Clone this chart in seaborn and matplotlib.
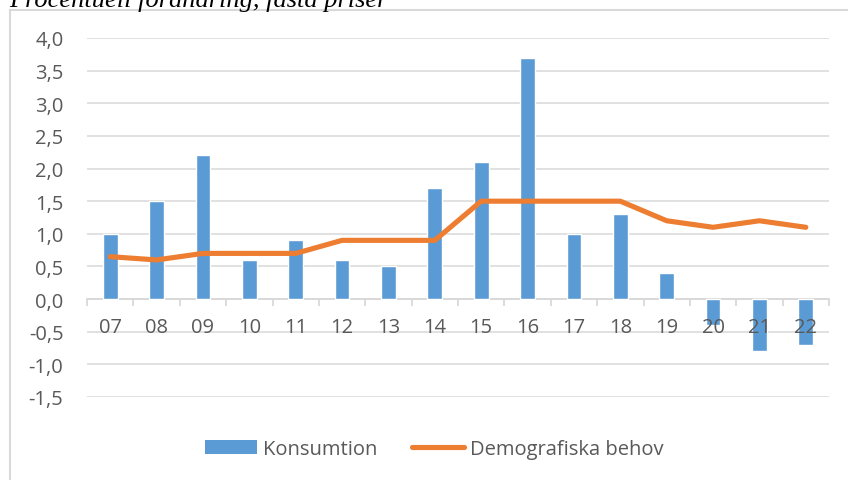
import numpy as np
import pandas as pd
import matplotlib
matplotlib.use("Agg")
import matplotlib.pyplot as plt
import matplotlib.ticker as mticker
from matplotlib.patches import Rectangle, Patch
from matplotlib.lines import Line2D
import seaborn as sns

years = ["07", "08", "09", "10", "11", "12", "13", "14", "15", "16", "17", "18", "19", "20", "21", "22"]
konsumtion = [1.0, 1.5, 2.2, 0.6, 0.9, 0.6, 0.5, 1.7, 2.1, 3.7, 1.0, 1.3, 0.4, -0.4, -0.8, -0.7]
demografiska = [0.65, 0.6, 0.7, 0.7, 0.7, 0.9, 0.9, 0.9, 1.5, 1.5, 1.5, 1.5, 1.2, 1.1, 1.2, 1.1]
yticks = [-1.5, -1.0, -0.5, 0.0, 0.5, 1.0, 1.5, 2.0, 2.5, 3.0, 3.5, 4.0]

sns.set_theme(style="white")
plt.rcParams["font.family"] = ["Open Sans", "DejaVu Sans"]

BLUE = "#5B9BD5"
ORANGE = "#ED7D31"
GRID = "#D9D9D9"
TXT = "#595959"
FS = 14.5

W, H = 848, 481
fig = plt.figure(figsize=(W / 100, H / 100), dpi=100)
ax = fig.add_axes([87 / W, 1 - 398 / H, (829 - 87) / W, (398 - 39) / H])

df = pd.DataFrame({"year": years, "konsumtion": konsumtion,
                   "pos": np.arange(len(years)), "demografiska": demografiska})

sns.barplot(data=df, x="year", y="konsumtion", color=BLUE, width=0.32,
            saturation=1, ax=ax, zorder=3, order=years)
sns.lineplot(data=df, x="pos", y="demografiska", color=ORANGE, lw=3.7,
             ax=ax, zorder=4, solid_capstyle="round")

ax.set_xlim(-0.5, len(years) - 0.5)
ax.set_ylim(-1.5, 4.0)
ax.set_yticks(yticks)
ax.yaxis.set_major_formatter(mticker.FuncFormatter(lambda v, p: f"{v:.1f}".replace(".", ",")))
ax.grid(axis="y", color=GRID, lw=1.1)
ax.grid(axis="x", visible=False)

for s in ["top", "right", "left"]:
    ax.spines[s].set_visible(False)
ax.spines["bottom"].set_position(("data", 0))
ax.spines["bottom"].set_color(GRID)
ax.spines["bottom"].set_linewidth(1.3)
ax.spines["bottom"].set_zorder(2)

ax.set_xticks(np.arange(len(years)))
ax.set_xticklabels(years)
ax.set_xticks(np.arange(len(years) + 1) - 0.5, minor=True)
ax.tick_params(axis="x", which="major", length=0, pad=13, labelsize=FS, labelcolor=TXT)
ax.tick_params(axis="x", which="minor", length=5, width=1.3, color=GRID, direction="out", bottom=True)
ax.tick_params(axis="y", length=0, pad=17, labelsize=FS, labelcolor=TXT)
ax.set_xlabel("")
ax.set_ylabel("")
# gridlines behind bars, x tick labels above bars
ax.yaxis.set_zorder(0.5)
ax.xaxis.set_zorder(5)

# border of chart area
fig.patches.append(Rectangle((10 / W, -0.05), 1.2, 1 - 10.5 / H + 0.05, transform=fig.transFigure,
                             fill=False, edgecolor=GRID, lw=1.5, zorder=0))

fig.text(9 / W, 1 - 7.5 / H, "Procentuell förändring, fasta priser", family=["Liberation Serif"],
         style="italic", fontsize=19, va="baseline", ha="left", color="black")

handles = [Patch(facecolor=BLUE, edgecolor="none"),
           Line2D([0], [0], color=ORANGE, lw=3.7, solid_capstyle="round")]
fig.legend(handles, ["Konsumtion", "Demografiska behov"], loc="center",
           bbox_to_anchor=(434 / W, 1 - 450 / H), ncol=2, frameon=False,
           fontsize=FS, labelcolor=TXT, handlelength=2.6, handletextpad=0.3,
           columnspacing=1.7, handleheight=0.65)

fig.savefig("out.png", dpi=100)
